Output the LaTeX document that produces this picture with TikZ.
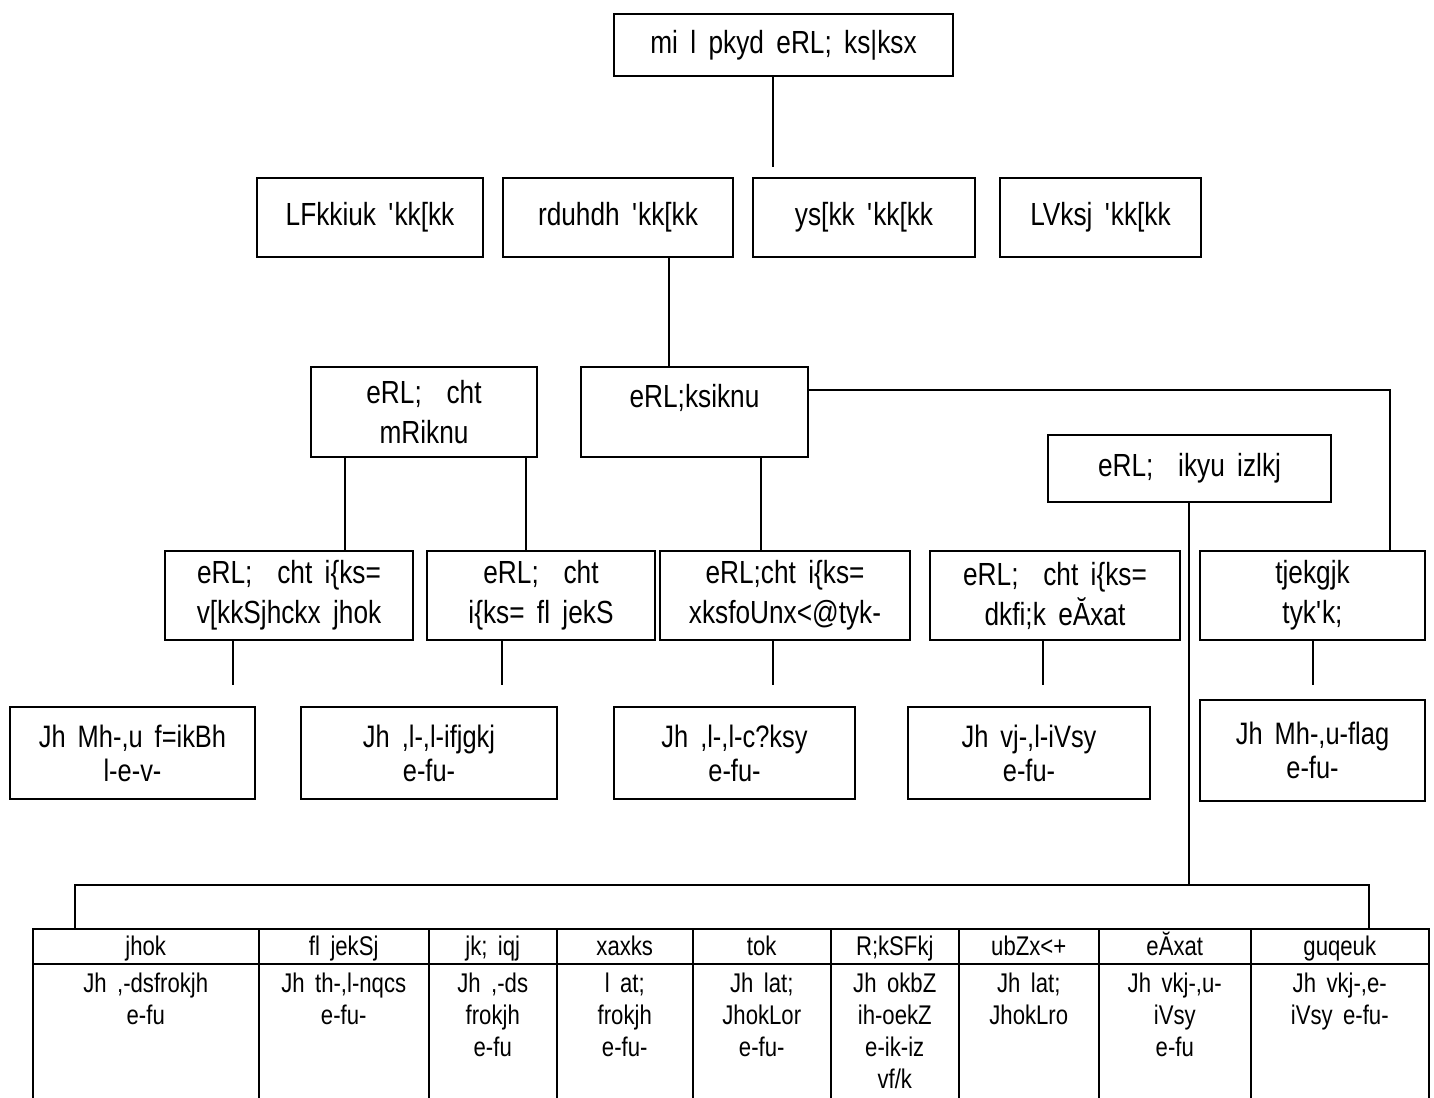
\documentclass[tikz,border=0pt]{standalone}
\usepackage{fontspec}
\setmainfont{Liberation Sans}[FakeStretch=0.82,WordSpace=1.7]
\usetikzlibrary{calc}
\newcommand{\apo}{\textquotesingle}
\begin{document}
\begin{tikzpicture}[x=1pt,y=-1pt,
  box/.style={draw, line width=1.5pt, inner sep=0pt, align=center},
  big/.style={font=\fontsize{32}{40}\selectfont},
  mid/.style={font=\fontsize{31}{34}\selectfont},
  small/.style={font=\fontsize{27}{32}\selectfont},
  conn/.style={line width=1.5pt},
  cell/.style={draw, line width=1.5pt, inner sep=0pt, anchor=north west},
  ctext/.style={small, align=center, anchor=north, inner sep=0pt}]
\useasboundingbox (0,0) rectangle (1434,1097);
% top
\node[box,big,minimum width=339pt,minimum height=62pt] (top) at (783.5,45) {mi l pkyd eRL; ks|ksx};
% row 2
\node[box,big,minimum width=226pt,minimum height=79pt] (s1) at (370,217.5) {LFkkiuk \apo kk[kk};
\node[box,big,minimum width=230pt,minimum height=79pt] (s2) at (618,217.5) {rduhdh \apo kk[kk};
\node[box,big,minimum width=222pt,minimum height=79pt] (s3) at (864,217.5) {ys[kk \apo kk[kk};
\node[box,big,minimum width=201pt,minimum height=79pt] (s4) at (1100.5,217.5) {LVksj \apo kk[kk};
% row 3
\node[box,big,minimum width=226pt,minimum height=90pt] (m1) at (424,412) {eRL;\ \ cht\\mRiknu};
\node[box,minimum width=227pt,minimum height=90pt] (m2) at (694.5,412) {};
\node[big,inner sep=0pt] (m2t) at (694.5,398) {eRL;ksiknu};
\node[box,big,minimum width=283pt,minimum height=67pt] (m3) at (1189.5,468.5) {eRL;\ \ ikyu izlkj};
% row 4
\node[box,big,minimum width=248pt,minimum height=89pt] (p1) at (289,595.5) {eRL;\ \ cht i\{ks=\\v[kkSjhckx jhok};
\node[box,big,minimum width=228pt,minimum height=89pt] (p2) at (541,595.5) {eRL;\ \ cht\\i\{ks= fl jekS};
\node[box,big,minimum width=250pt,minimum height=89pt] (p3) at (785,595.5) {eRL;cht i\{ks=\\xksfoUnx<@tyk-};
\node[box,big,minimum width=250pt,minimum height=89pt] (p4) at (1055,595.5) {eRL;\ \ cht i\{ks=\\dkfi;k eĂxat};
\node[box,big,minimum width=225pt,minimum height=89pt] (p5) at (1312.5,595.5) {tjekgjk\\tyk\apo k;};
% row 5
\node[box,mid,minimum width=245pt,minimum height=92pt] (q1) at (132.5,753) {Jh Mh-,u f=ikBh\\l-e-v-};
\node[box,mid,minimum width=256pt,minimum height=92pt] (q2) at (429,753) {Jh ,l-,l-ifjgkj\\e-fu-};
\node[box,mid,minimum width=241pt,minimum height=92pt] (q3) at (734.5,753) {Jh ,l-,l-c?ksy\\e-fu-};
\node[box,mid,minimum width=242pt,minimum height=92pt] (q4) at (1029,753) {Jh vj-,l-iVsy\\e-fu-};
\node[box,mid,minimum width=225pt,minimum height=101pt] (q5) at (1312.5,750.5) {Jh Mh-,u-flag\\e-fu-};
% connector coordinates
\coordinate (c0) at (773,167);
\coordinate (c1) at (669,0);
\coordinate (c2) at (1390,390);
\coordinate (c3) at (761,0);
\coordinate (c4) at (345,0);
\coordinate (c5) at (526,0);
\coordinate (d1) at (233,685);
\coordinate (d2) at (502,685);
\coordinate (d3) at (773,685);
\coordinate (d4) at (1043,685);
\coordinate (d5) at (1313,685);
\coordinate (b0) at (1189,885);
\coordinate (bl) at (75,885);
\coordinate (br) at (1369,885);
\draw[conn] (top.south -| c0) -- (c0);
\draw[conn] (s2.south -| c1) -- (m2.north -| c1);
\draw[conn] (m2.east |- c2) -- (c2) -- (p5.north -| c2);
\draw[conn] (m2.south -| c3) -- (p3.north -| c3);
\draw[conn] (m1.south -| c4) -- (p1.north -| c4);
\draw[conn] (m1.south -| c5) -- (p2.north -| c5);
\draw[conn] (p1.south -| d1) -- (d1);
\draw[conn] (p2.south -| d2) -- (d2);
\draw[conn] (p3.south -| d3) -- (d3);
\draw[conn] (p4.south -| d4) -- (d4);
\draw[conn] (p5.south -| d5) -- (d5);
\draw[conn] (m3.south -| b0) -- (b0);
% table
\foreach \n/\a/\b/\h/\t in {
  1/32/258/jhok/{Jh ,-dsfrokjh\\e-fu},
  2/258/428/fl jekSj/{Jh th-,l-nqcs\\e-fu-},
  3/428/556/jk; iqj/{Jh ,-ds\\frokjh\\e-fu},
  4/556/692/xaxks/{l at;\\frokjh\\e-fu-},
  5/692/830/tok/{Jh lat;\\JhokLor\\e-fu-},
  6/830/958/R;kSFkj/{Jh okbZ\\ih-oekZ\\e-ik-iz\\vf/k},
  7/958/1098/ubZx<+/{Jh lat;\\JhokLro},
  8/1098/1250/eĂxat/{Jh vkj-,u-\\iVsy\\e-fu},
  9/1250/1428/guqeuk/{Jh vkj-,e-\\iVsy e-fu-}} {
  \node[cell,minimum width={\b-\a},minimum height=35pt] (h\n) at (\a,928) {};
  \node[cell,minimum width={\b-\a},minimum height=160pt] (g\n) at (\a,963) {};
  \node[small,inner sep=0pt,anchor=base] (ht\n) at ($(h\n.center)+(0,9)$) {\h};
  \node[ctext] (gt\n) at ($(g\n.north)+(0,10)$) {\t};
}
\draw[conn] (h1.north -| bl) -- (bl) -- (br) -- (h9.north -| br);
\end{tikzpicture}
\end{document}
